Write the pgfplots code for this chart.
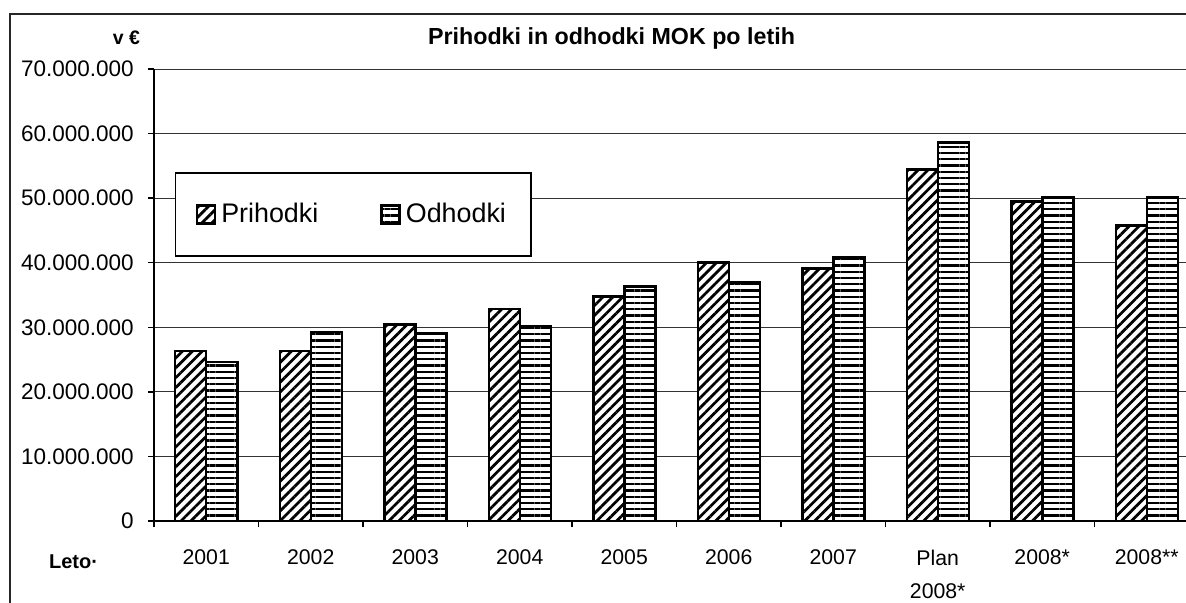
\documentclass[border=0pt]{standalone}
\usepackage{fontspec}
\setmainfont{Liberation Sans}
\usepackage{pgfplots}
\pgfplotsset{compat=1.18}
\usetikzlibrary{patterns.meta}

\pgfplotstableread{
x P O
0 26300000 24600000
1 26300000 29300000
2 30400000 29000000
3 32800000 30200000
4 34800000 36300000
5 40000000 36900000
6 39100000 40800000
7 54400000 58600000
8 49500000 50100000
9 45800000 50100000
}\datatable

\begin{document}
\begin{tikzpicture}
\useasboundingbox (0pt,0pt) rectangle (474.4pt,-241.2pt);
\draw[line width=0.8pt, black!85] (3.8pt,-241.2pt) -- (3.8pt,-5.6pt) -- (474.4pt,-5.6pt);
\begin{axis}[
  at={(61.6pt,-208.4pt)}, anchor=south west,
  scale only axis, width=418pt, height=180.8pt,
  xmin=-0.5, xmax=9.5, ymin=0, ymax=70000000,
  ybar=0pt, bar width=12.4pt,
  axis lines*=left,
  axis line style={black, line width=0.6pt},
  tick align=outside, major tick length=2.4pt,
  tick style={black, line width=0.6pt},
  scaled y ticks=false,
  ytick={0,10000000,20000000,30000000,40000000,50000000,60000000,70000000},
  yticklabels={0,10.000.000,20.000.000,30.000.000,40.000.000,50.000.000,60.000.000,70.000.000},
  yticklabel style={font=\fontsize{9}{11}\selectfont, xshift=-2.2pt},
  ymajorgrids, major grid style={black!80, line width=0.4pt},
  xtick={-0.5,0.5,1.5,2.5,3.5,4.5,5.5,6.5,7.5,8.5,9.5},
  xticklabels={},
  extra x ticks={0,1,2,3,4,5,6,7,8,9},
  extra x tick labels={2001,2002,2003,2004,2005,2006,2007,{Plan\\2008*},2008*,2008**},
  extra x tick style={major tick length=0pt, grid=none,
    xticklabel style={align=center, font=\fontsize{8.5}{13.2}\selectfont, yshift=-8pt}},
  title={Prihodki in odhodki MOK po letih},
  title style={font=\bfseries\fontsize{9.3}{11}\selectfont, at={(axis description cs:0.4378,1)}, anchor=base, yshift=4pt},
  legend style={at={(axis description cs:0.0201,0.772)}, anchor=north west,
    legend columns=2, draw=black, line width=0.6pt,
    font=\fontsize{10.75}{13}\selectfont, inner xsep=8pt, inner ysep=10pt,
    /tikz/every even column/.append style={column sep=22.8pt}},
  legend image code/.code={\draw[#1] (0pt,-3.6pt) rectangle (7.2pt,3.6pt);},
]
\addplot[draw=black, line width=1pt, fill=white,
  postaction={pattern={Lines[angle=45,distance=2.8pt,line width=1.1pt]}}]
  table[x=x,y=P]{\datatable};
\addplot[draw=black, line width=1pt, fill=white,
  postaction={pattern={Lines[angle=0,distance=2.5pt,line width=0.9pt]}}]
  table[x=x,y=O]{\datatable};
\legend{Prihodki,Odhodki}
\end{axis}
\node[font=\bfseries\fontsize{7.8}{9}\selectfont] at (50.6pt,-15.2pt) {v €};
\node[font=\bfseries\fontsize{8}{10}\selectfont] at (29.4pt,-224.8pt) {Leto·};
\end{tikzpicture}
\end{document}
